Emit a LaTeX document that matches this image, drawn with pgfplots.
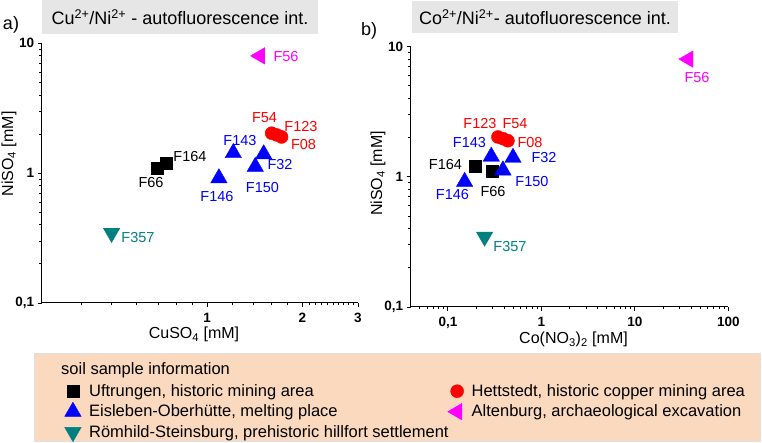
\documentclass[border=0pt]{standalone}
\usepackage{fontspec}
\setmainfont{Liberation Sans}
\usepackage{pgfplots}
\pgfplotsset{compat=1.18}
\definecolor{mblue}{RGB}{0,0,255}
\definecolor{mred}{RGB}{255,0,0}
\definecolor{mmag}{RGB}{255,0,255}
\definecolor{mteal}{RGB}{0,128,128}
\definecolor{tgray}{RGB}{230,230,230}
\definecolor{peach}{RGB}{250,217,190}
\newcommand{\fl}{\fontsize{14.5}{16}\selectfont}
\newcommand{\fax}{\fontsize{16}{18}\selectfont}
\newcommand{\ftit}{\fontsize{18}{20}\selectfont}
\begin{document}
\begin{tikzpicture}[x=1pt,y=1pt]
\useasboundingbox (0,0) rectangle (762,443);
% title boxes
\fill[tgray] (41.7,408.5) rectangle (318.3,443);
\node[font=\ftit] at (180,425.5) {Cu\textsuperscript{2+}/Ni\textsuperscript{2+} - autofluorescence int.};
\fill[tgray] (412,410) rectangle (678,442);
\node[font=\ftit] at (545,426) {Co\textsuperscript{2+}/Ni\textsuperscript{2+}- autofluorescence int.};
\node[font=\fontsize{18}{20}\selectfont] at (11,418.5) {a)};
\node[font=\fontsize{18}{20}\selectfont] at (369,412) {b)};
% legend box
\filldraw[fill=peach, draw=black!12] (34,2) rectangle (760,90);
\node[font=\fontsize{16.5}{18}\selectfont, anchor=west, inner sep=0pt] at (61,73) {soil sample information};

\begin{axis}[scale only axis, xmode=log, ymode=log, clip=false,
  axis lines*=left, axis line style={line width=1pt, black},
  tick align=outside, major tick length=4pt, minor tick length=2.5pt,
  tick style={black, line width=0.9pt},
  ymin=0.1, ymax=10, ytick={0.1,1,10}, yticklabels={{0,1},1,10},
  minor ytick={0.2,0.3,0.4,0.5,0.6,0.7,0.8,0.9,2,3,4,5,6,7,8,9},
  ticklabel style={font=\fontsize{13.5}{15}\selectfont\bfseries},
  xticklabel style={yshift=-3pt},
  at={(41.7pt,140pt)}, anchor=south west, width=316.3pt, height=259.7pt,
  xmin=0.3, xmax=3, xtick={1,2,3}, xticklabels={1,2,3},
  minor xtick={0.4,0.5,0.6,0.7,0.8,0.9,1.2,1.4,1.6,1.8,2.1,2.2,2.3,2.4,2.5,2.6,2.7,2.8,2.9},
  legend columns=2, legend cell align=left,
  legend style={at={(axis description cs:0.0721,-0.3003)}, anchor=north west, draw=none, fill=none,
    inner xsep=0pt, inner ysep=0pt, font=\fontsize{16.5}{18}\selectfont,
    nodes={inner sep=2pt, text height=13pt, text depth=3pt}, row sep=0.5pt,
    /tikz/every odd column/.append style={column sep=6pt}},
]
\addplot[only marks, mark=square*, mark size=6pt, black] coordinates {(0.745,1.2) (0.696,1.1)};
\addlegendentry{\makebox[356.5pt][l]{Uftrungen, historic mining area}}
\addplot[only marks, mark=*, mark size=6.5pt, mred] coordinates {(1.60,2.03) (1.66,1.97) (1.72,1.90)};
\addlegendentry{Hettstedt, historic copper mining area}
\addplot[only marks, mark=triangle*, mark size=9.5pt, mblue] coordinates {(1.21,1.43) (1.51,1.40) (1.42,1.12) (1.09,0.915)};
\addlegendentry{\makebox[356.5pt][l]{Eisleben-Oberhütte, melting place}}
\addplot[only marks, mark=triangle*, mark size=9.5pt, mmag, mark options={rotate=90}] coordinates {(1.47,8.0)};
\addlegendentry{Altenburg, archaeological excavation}
\addplot[only marks, mark=triangle*, mark size=9.5pt, mteal, mark options={rotate=180}] coordinates {(0.499,0.346)};
\addlegendentry{\makebox[356.5pt][l]{Römhild-Steinsburg, prehistoric hillfort settlement}}
\end{axis}

\begin{axis}[scale only axis, xmode=log, ymode=log, clip=false,
  axis lines*=left, axis line style={line width=1pt, black},
  tick align=outside, major tick length=4pt, minor tick length=2.5pt,
  tick style={black, line width=0.9pt},
  ymin=0.1, ymax=10, ytick={0.1,1,10}, yticklabels={{0,1},1,10},
  minor ytick={0.2,0.3,0.4,0.5,0.6,0.7,0.8,0.9,2,3,4,5,6,7,8,9},
  ticklabel style={font=\fontsize{13.5}{15}\selectfont\bfseries},
  xticklabel style={yshift=-3pt},
  at={(410.7pt,136pt)}, anchor=south west, width=317.6pt, height=260.5pt,
  xmin=0.04, xmax=100, xtick={0.1,1,10,100}, xticklabels={{0,1},1,10,100},
  minor xtick={0.05,0.06,0.07,0.08,0.09,0.2,0.3,0.4,0.5,0.6,0.7,0.8,0.9,2,3,4,5,6,7,8,9,20,30,40,50,60,70,80,90},
]
\addplot[only marks, mark=square*, mark size=6pt, black] coordinates {(0.198,1.2) (0.298,1.1)};
\addplot[only marks, mark=*, mark size=6.5pt, mred] coordinates {(0.343,2.02) (0.39,1.96) (0.439,1.89)};
\addplot[only marks, mark=triangle*, mark size=9.5pt, mblue] coordinates {(0.291,1.43) (0.497,1.40) (0.388,1.12) (0.151,0.915)};
\addplot[only marks, mark=triangle*, mark size=9.5pt, mmag, mark options={rotate=90}] coordinates {(37.3,8.0)};
\addplot[only marks, mark=triangle*, mark size=9.5pt, mteal, mark options={rotate=180}] coordinates {(0.247,0.346)};
\end{axis}

% axis labels
\node[font=\fax, rotate=90] at (9,289) {NiSO\textsubscript{4} [mM]};
\node[font=\fax, rotate=90] at (378,269.5) {NiSO\textsubscript{4} [mM]};
\node[font=\fax, anchor=base] at (194,104.5) {CuSO\textsubscript{4} [mM]};
\node[font=\fax, anchor=base] at (573.5,99.5) {Co(NO\textsubscript{3})\textsubscript{2} [mM]};

% point labels
\begin{scope}[every node/.style={font=\fl, inner sep=0pt}]
\node[mmag] at (286,386) {F56};
\node[mred] at (264.5,325) {F54};
\node[mred] at (301,316) {F123};
\node[mred] at (303.5,298) {F08};
\node[mblue] at (240,302) {F143};
\node[mblue] at (280,278) {F32};
\node[mblue] at (262.5,255) {F150};
\node[mblue] at (217,246) {F146};
\node[black] at (190,286) {F164};
\node[black] at (151,260) {F66};
\node[mteal] at (138,205) {F357};
\node[mmag] at (697,365) {F56};
\node[mred] at (480,319) {F123};
\node[mred] at (515,319) {F54};
\node[mred] at (530,300) {F08};
\node[mblue] at (469.5,300) {F143};
\node[mblue] at (544,285) {F32};
\node[mblue] at (532,261) {F150};
\node[mblue] at (452.5,248) {F146};
\node[black] at (445.5,278) {F164};
\node[black] at (493,251) {F66};
\node[mteal] at (510,196) {F357};
\end{scope}
\end{tikzpicture}
\end{document}
